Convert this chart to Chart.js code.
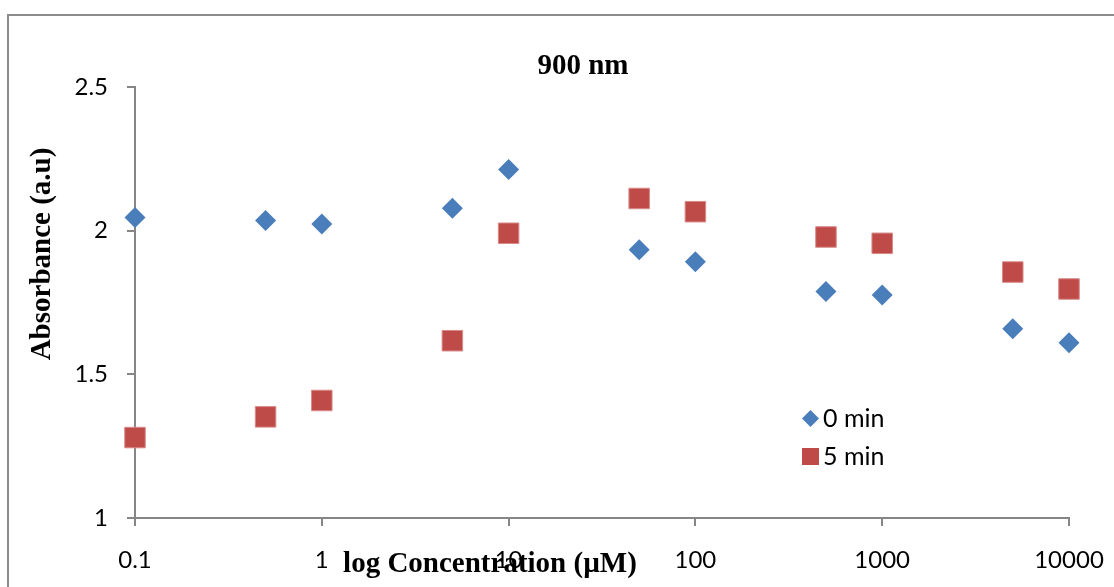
<!DOCTYPE html>
<html>
<head>
<meta charset="utf-8">
<script src="https://cdn.jsdelivr.net/npm/chart.js@4.4.0/dist/chart.umd.min.js"></script>
<style>
  html, body { margin: 0; padding: 0; background: #fff; }
  #wrap { position: relative; width: 1114px; height: 587px; overflow: hidden; }
  #frame { position: absolute; left: 7px; top: 14px; width: 1200px; height: 700px; border: 2.5px solid #8c8c8c; box-sizing: border-box; }
  canvas { position: absolute; left: 0; top: 0; }
</style>
</head>
<body>
<div id="wrap">
  <div id="frame"></div>
  <canvas id="chart" width="1114" height="587"></canvas>
</div>
<script>
// concentrations (µM) and absorbance
const concentrations = [0.1, 0.5, 1, 5, 10, 50, 100, 500, 1000, 5000, 10000];
const abs0min = [2.046, 2.035, 2.023, 2.078, 2.213, 1.934, 1.892, 1.788, 1.776, 1.659, 1.610];
const abs5min = [1.280, 1.352, 1.409, 1.617, 1.991, 2.112, 2.066, 1.978, 1.956, 1.856, 1.797];
const xTicks = [0.1, 1, 10, 100, 1000, 10000];
const yTicks = [1, 1.5, 2, 2.5];

const blue = '#4a7ebb';
const red = '#be4b48';
const axisGray = '#868686';
const tickFont = { family: 'Lato', size: 24 };

function toPoints(ys) {
  return concentrations.map((x, i) => ({ x: x, y: ys[i] }));
}

// titles and legend drawn at the positions the original chart uses
const extras = {
  id: 'extras',
  afterDraw(chart) {
    const ctx = chart.ctx;
    ctx.save();
    ctx.fillStyle = '#000';
    ctx.textAlign = 'center';
    ctx.textBaseline = 'middle';

    ctx.font = 'bold 29px "Liberation Serif"';
    ctx.fillText('900 nm', 583, 67);
    ctx.fillText('log Concentration (µM)', 490, 565);

    ctx.save();
    ctx.translate(43, 254);
    ctx.rotate(-Math.PI / 2);
    ctx.fillText('Absorbance (a.u)', 0, 0);
    ctx.restore();

    // legend
    ctx.fillStyle = blue;
    ctx.beginPath();
    ctx.moveTo(810.5, 410); ctx.lineTo(819, 418.5); ctx.lineTo(810.5, 427); ctx.lineTo(802, 418.5);
    ctx.closePath();
    ctx.fill();
    ctx.fillStyle = red;
    ctx.fillRect(802, 448, 17, 17);

    ctx.fillStyle = '#000';
    ctx.textAlign = 'left';
    ctx.font = '25px Lato';
    ctx.fillText('0 min', 823, 419);
    ctx.fillText('5 min', 823, 457);
    ctx.restore();
  }
};

new Chart(document.getElementById('chart'), {
  type: 'scatter',
  data: {
    datasets: [
      {
        label: '0 min',
        data: toPoints(abs0min),
        pointStyle: 'rectRot',
        pointRadius: 10.5,
        pointHoverRadius: 10.5,
        backgroundColor: blue,
        borderColor: blue,
        borderWidth: 0
      },
      {
        label: '5 min',
        data: toPoints(abs5min),
        pointStyle: 'rect',
        pointRadius: 14.5,
        pointHoverRadius: 14.5,
        backgroundColor: red,
        borderColor: '#d88a88',
        borderWidth: 1
      }
    ]
  },
  options: {
    responsive: false,
    animation: false,
    clip: false,
    layout: { padding: { top: 87, right: 45, left: 0, bottom: 0 } },
    plugins: {
      legend: { display: false },
      title: { display: false },
      tooltip: { enabled: false }
    },
    scales: {
      x: {
        type: 'logarithmic',
        min: 0.1,
        max: 10000,
        afterBuildTicks(scale) {
          scale.ticks = xTicks.map(v => ({ value: v }));
        },
        afterFit(scale) {
          scale.height = 587 - 518;
          scale.paddingLeft = 0;
          scale.paddingRight = 0;
        },
        ticks: {
          color: '#000',
          font: tickFont,
          padding: 20,
          maxRotation: 0,
          autoSkip: false,
          callback: v => String(v)
        },
        grid: { drawOnChartArea: false, drawTicks: true, tickLength: 8, color: axisGray, lineWidth: 2 },
        border: { display: true, color: axisGray, width: 2 }
      },
      y: {
        min: 1,
        max: 2.5,
        afterBuildTicks(scale) {
          scale.ticks = yTicks.map(v => ({ value: v }));
        },
        afterFit(scale) {
          scale.width = 135;
          scale.paddingTop = 0;
          scale.paddingBottom = 0;
        },
        ticks: {
          color: '#000',
          font: tickFont,
          padding: 19,
          callback: v => String(v)
        },
        grid: { drawOnChartArea: false, drawTicks: true, tickLength: 8, color: axisGray, lineWidth: 2 },
        border: { display: true, color: axisGray, width: 2 }
      }
    }
  },
  plugins: [extras]
});
</script>
</body>
</html>
